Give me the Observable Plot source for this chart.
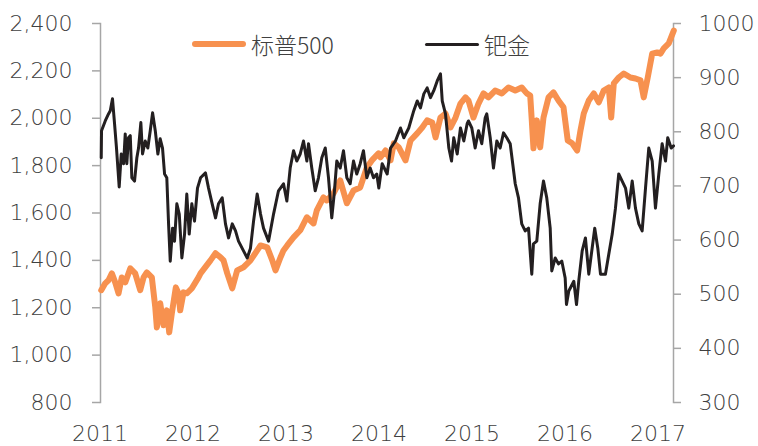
<!DOCTYPE html>
<html>
<head>
<meta charset="utf-8">
<script src="https://cdn.jsdelivr.net/npm/d3@7"></script>
<script src="https://cdn.jsdelivr.net/npm/@observablehq/plot@0.6"></script>
<style>
  html, body { margin: 0; padding: 0; background: #fff; }
  #wrap { position: relative; width: 758px; height: 446px; font-family: "DejaVu Sans", "Noto Sans CJK SC", sans-serif; font-weight: 300; color: #404040; }
  .leg { position: absolute; display: flex; align-items: center; font-size: 23px; font-family: "Noto Sans CJK SC", "DejaVu Sans", sans-serif; font-weight: 300; top: 27px; }
  .sw { display: inline-block; width: 54px; margin-right: 5px; border-radius: 4px; }
</style>
</head>
<body>
<div id="wrap"></div>
<script>
// ---- data (time as decimal year) ----
const seriesNames = ["标普500", "钯金"];
const spT = [2011.013,2011.056,2011.091,2011.127,2011.163,2011.199,2011.234,2011.271,2011.325,2011.378,2011.432,2011.468,2011.503,2011.557,2011.594,2011.611,2011.647,2011.683,2011.718,2011.744,2011.772,2011.815,2011.844,2011.862,2011.898,2011.933,2011.987,2012.059,2012.081,2012.188,2012.242,2012.296,2012.328,2012.368,2012.422,2012.475,2012.543,2012.618,2012.690,2012.726,2012.798,2012.852,2012.887,2012.941,2012.973,2013.013,2013.081,2013.153,2013.224,2013.296,2013.331,2013.403,2013.439,2013.511,2013.583,2013.654,2013.726,2013.798,2013.869,2013.923,2013.995,2014.016,2014.070,2014.124,2014.159,2014.213,2014.285,2014.339,2014.411,2014.465,2014.518,2014.572,2014.608,2014.661,2014.715,2014.769,2014.823,2014.876,2014.930,2014.962,2015.016,2015.070,2015.124,2015.177,2015.249,2015.320,2015.392,2015.465,2015.535,2015.589,2015.626,2015.643,2015.661,2015.697,2015.733,2015.769,2015.823,2015.876,2015.930,2015.984,2016.030,2016.077,2016.131,2016.167,2016.202,2016.256,2016.310,2016.363,2016.417,2016.471,2016.497,2016.525,2016.578,2016.632,2016.704,2016.758,2016.812,2016.847,2016.890,2016.938,2016.991,2017.027,2017.062,2017.116,2017.170];
const spV = [1274,1303,1316,1345,1307,1261,1328,1307,1366,1345,1274,1328,1349,1328,1202,1117,1219,1126,1189,1096,1176,1286,1261,1189,1265,1261,1282,1328,1345,1400,1430,1413,1400,1345,1282,1358,1371,1400,1442,1463,1455,1400,1358,1413,1442,1463,1497,1527,1582,1556,1611,1666,1653,1683,1738,1641,1695,1708,1792,1822,1852,1835,1864,1822,1894,1877,1822,1906,1936,1961,1991,1982,1919,2003,2020,1961,2003,2062,2088,2075,2003,2062,2105,2088,2117,2105,2130,2117,2130,2105,2096,1991,1873,1991,1877,2003,2088,2109,2075,2046,1906,1894,1864,1949,2020,2075,2105,2067,2117,2130,2003,2147,2172,2189,2172,2168,2160,2088,2172,2273,2278,2273,2295,2316,2370];
const pdT = [2011.013,2011.016,2011.056,2011.091,2011.110,2011.134,2011.156,2011.177,2011.206,2011.228,2011.253,2011.271,2011.288,2011.306,2011.325,2011.342,2011.371,2011.396,2011.414,2011.439,2011.457,2011.486,2011.514,2011.540,2011.565,2011.594,2011.622,2011.647,2011.672,2011.694,2011.718,2011.737,2011.755,2011.780,2011.801,2011.826,2011.852,2011.880,2011.909,2011.933,2011.959,2011.987,2012.016,2012.048,2012.081,2012.134,2012.167,2012.206,2012.242,2012.274,2012.314,2012.349,2012.382,2012.422,2012.457,2012.489,2012.543,2012.583,2012.618,2012.651,2012.690,2012.726,2012.758,2012.812,2012.866,2012.919,2012.973,2013.009,2013.045,2013.081,2013.116,2013.153,2013.188,2013.224,2013.242,2013.277,2013.314,2013.349,2013.385,2013.422,2013.457,2013.492,2013.518,2013.546,2013.583,2013.618,2013.654,2013.690,2013.726,2013.761,2013.798,2013.833,2013.869,2013.905,2013.941,2013.976,2013.998,2014.034,2014.088,2014.124,2014.177,2014.231,2014.267,2014.320,2014.374,2014.411,2014.446,2014.482,2014.518,2014.554,2014.589,2014.626,2014.661,2014.680,2014.715,2014.751,2014.780,2014.804,2014.841,2014.876,2014.912,2014.948,2014.962,2014.998,2015.034,2015.070,2015.105,2015.142,2015.159,2015.196,2015.231,2015.267,2015.303,2015.339,2015.374,2015.411,2015.465,2015.500,2015.535,2015.572,2015.608,2015.643,2015.661,2015.697,2015.733,2015.769,2015.804,2015.841,2015.858,2015.895,2015.930,2015.966,2016.002,2016.016,2016.041,2016.095,2016.124,2016.148,2016.185,2016.220,2016.256,2016.292,2016.320,2016.353,2016.382,2016.435,2016.471,2016.508,2016.543,2016.578,2016.615,2016.651,2016.686,2016.723,2016.758,2016.794,2016.830,2016.866,2016.901,2016.938,2016.973,2017.009,2017.045,2017.081,2017.105,2017.142,2017.167];
const pdV = [752,802,820,833,839,861,815,770,698,759,741,796,741,789,793,715,709,752,770,817,759,783,770,802,835,802,759,787,770,722,715,630,561,622,598,667,648,567,611,685,611,667,635,696,715,724,696,667,641,667,678,630,604,630,617,598,580,567,585,635,685,648,622,598,648,691,704,672,733,765,746,759,783,746,778,733,691,715,752,770,715,641,685,746,733,765,715,704,746,722,741,765,715,733,715,722,696,741,722,770,783,807,789,807,839,857,844,870,881,863,876,894,907,857,833,770,746,789,759,807,783,815,820,807,770,802,778,826,833,789,733,783,770,798,789,778,704,678,630,617,622,537,593,598,667,709,678,622,543,567,556,561,530,481,506,524,481,524,580,604,537,585,622,585,537,537,574,611,659,722,709,696,659,709,659,630,617,696,770,746,659,722,778,746,789,770,774];
const yearTicks = [2011, 2012, 2013, 2014, 2015, 2016, 2017];
const leftTicks = [800, 1000, 1200, 1400, 1600, 1800, 2000, 2200, 2400];
const rightTicks = [300, 400, 500, 600, 700, 800, 900, 1000];
const colors = ["#F7914F", "#231F20"];

// ---- build tables ----
const leftDomain = [800, 2400];
const rightDomain = [300, 1000];
const toLeft = v => leftDomain[0] + (v - rightDomain[0]) * (leftDomain[1] - leftDomain[0]) / (rightDomain[1] - rightDomain[0]);
const fromLeft = v => rightDomain[0] + (v - leftDomain[0]) * (rightDomain[1] - rightDomain[0]) / (leftDomain[1] - leftDomain[0]);
const sp = spT.map((t, i) => ({t, v: spV[i]}));
const pd = pdT.map((t, i) => ({t, v: pdV[i]}));

const axisColor = "#a6a6a6";
const textColor = "#404040";

const chart = Plot.plot({
  width: 758,
  height: 446,
  marginLeft: 100,
  marginRight: 85,
  marginTop: 23,
  marginBottom: 44,
  x: {type: "linear", domain: [2011.005, 2017.167], label: null},
  y: {domain: leftDomain, label: null},
  style: {fontFamily: '"DejaVu Sans", sans-serif', fontWeight: 300, fontSize: "22px", color: textColor, background: "#fff", overflow: "visible"},
  marks: [
    Plot.frame({anchor: "left", stroke: axisColor, strokeWidth: 1.5}),
    Plot.frame({anchor: "right", stroke: axisColor, strokeWidth: 1.5}),
    Plot.axisY(leftTicks, {anchor: "left", label: null, tickSize: 8, tickPadding: 20, tickFormat: d3.format(","), stroke: axisColor, strokeWidth: 1.5, fill: textColor, fontSize: 22}),
    Plot.axisY(rightTicks.map(toLeft), {anchor: "right", label: null, tickSize: 7, tickPadding: 18, tickFormat: d => String(Math.round(fromLeft(d))), stroke: axisColor, strokeWidth: 1.5, fill: textColor, fontSize: 22}),
    Plot.axisX(yearTicks, {anchor: "bottom", label: null, tickSize: 0, tickPadding: 23, tickFormat: d => String(d), fill: textColor, fontSize: 22}),
    Plot.line(sp, {x: "t", y: "v", stroke: colors[0], strokeWidth: 6, strokeLinejoin: "round", strokeLinecap: "round"}),
    Plot.line(pd, {x: "t", y: d => toLeft(d.v), stroke: colors[1], strokeWidth: 3, strokeLinejoin: "round", strokeLinecap: "round"})
  ]
});

const wrap = document.getElementById("wrap");
wrap.appendChild(chart);

// legend
const legendItems = [
  {name: seriesNames[0], color: colors[0], thick: 6, left: 192},
  {name: seriesNames[1], color: colors[1], thick: 3, left: 425}
];
for (const it of legendItems) {
  const d = document.createElement("div");
  d.className = "leg";
  d.style.left = it.left + "px";
  const s = document.createElement("span");
  s.className = "sw";
  s.style.height = it.thick + "px";
  s.style.background = it.color;
  const t = document.createElement("span");
  t.textContent = it.name;
  d.appendChild(s);
  d.appendChild(t);
  wrap.appendChild(d);
}
</script>
</body>
</html>
